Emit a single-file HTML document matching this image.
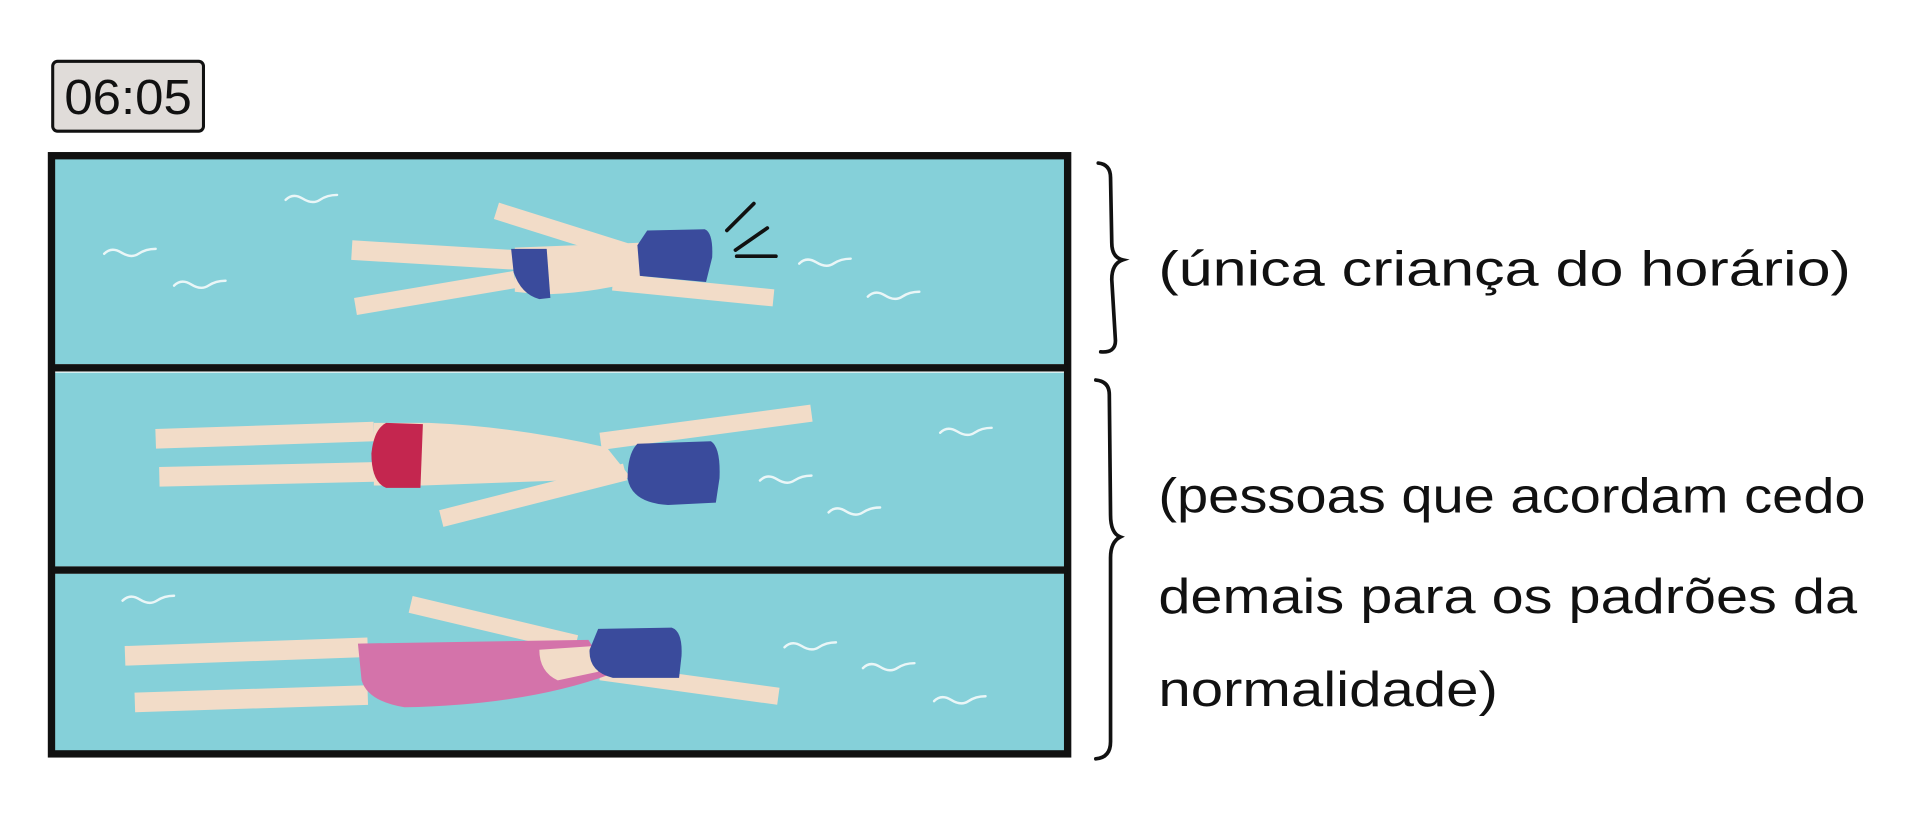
<!DOCTYPE html>
<html><head><meta charset="utf-8"><style>html,body{margin:0;padding:0;background:#fff}svg{display:block}</style></head>
<body>
<svg width="1922" height="832" viewBox="0 0 1568 678.7" xmlns="http://www.w3.org/2000/svg">
<rect width="1568" height="679" fill="#fff"/>
<rect x="43" y="50" width="123" height="57" rx="4" fill="#e0dcd9" stroke="#111" stroke-width="2.5"/>
<text x="104.5" y="93" font-family="Liberation Sans Narrow, Liberation Sans, sans-serif" font-size="40" text-anchor="middle" textLength="104" lengthAdjust="spacingAndGlyphs" fill="#111">06:05</text>
<g fill="#85d0d9">
<rect x="43" y="129" width="827" height="168"/>
<rect x="43" y="304" width="827" height="158"/>
<rect x="43" y="468" width="827" height="145"/>
</g>
<g fill="none" stroke="#111" stroke-width="6">
<rect x="42" y="127" width="829" height="488"/>
<line x1="42" y1="300" x2="871" y2="300"/>
<line x1="42" y1="465" x2="871" y2="465"/>
</g>
<g fill="none" stroke="#eaf6f7" stroke-width="2" stroke-linecap="round">
<path d="M233,163 q6,-6 14,-1 t14,1 t14,-4"/>
<path d="M85,207 q6,-6 14,-1 t14,1 t14,-4"/>
<path d="M142,233 q6,-6 14,-1 t14,1 t14,-4"/>
<path d="M652,215 q6,-6 14,-1 t14,1 t14,-4"/>
<path d="M708,242 q6,-6 14,-1 t14,1 t14,-4"/>
<path d="M767,353 q6,-6 14,-1 t14,1 t14,-4"/>
<path d="M620,392 q6,-6 14,-1 t14,1 t14,-4"/>
<path d="M676,418 q6,-6 14,-1 t14,1 t14,-4"/>
<path d="M100,490 q6,-6 14,-1 t14,1 t14,-4"/>
<path d="M640,528 q6,-6 14,-1 t14,1 t14,-4"/>
<path d="M704,545 q6,-6 14,-1 t14,1 t14,-4"/>
<path d="M762,572 q6,-6 14,-1 t14,1 t14,-4"/>
</g>
<g stroke="#f2dcc8" stroke-linecap="butt">
<line x1="287" y1="204" x2="420" y2="212" stroke-width="16"/>
<line x1="290" y1="250" x2="420" y2="228" stroke-width="14"/>
<line x1="405" y1="172" x2="510" y2="205" stroke-width="14"/>
<line x1="500" y1="230" x2="631" y2="243" stroke-width="14"/>
<line x1="127" y1="358" x2="305" y2="352" stroke-width="16"/>
<line x1="130" y1="389" x2="305" y2="385" stroke-width="16"/>
<line x1="490" y1="360" x2="662" y2="337" stroke-width="14"/>
<line x1="360" y1="423" x2="510" y2="385" stroke-width="14"/>
<line x1="102" y1="535" x2="300" y2="528" stroke-width="16"/>
<line x1="110" y1="573" x2="300" y2="567" stroke-width="16"/>
<line x1="335" y1="493" x2="470" y2="525" stroke-width="14"/>
<line x1="490" y1="548" x2="635" y2="568" stroke-width="14"/>
</g>
<path d="M420,202 L522,198 L525,228 Q480,240 440,240 L420,238Z" fill="#f2dcc8"/>
<path d="M417,203 L446,203 L449,243 L440,244 Q425,240 419,222Z" fill="#3a4b9c"/>
<path d="M528,188 L575,187 Q582,190 581,210 L576,230 L522,225 L520,200Z" fill="#3a4b9c"/>
<g stroke="#111" stroke-width="3" stroke-linecap="round">
<line x1="593" y1="188" x2="615" y2="166"/><line x1="600" y1="204" x2="626" y2="186"/><line x1="601" y1="209" x2="633" y2="209"/>
</g>
<path d="M305,345 L350,345 Q420,348 495,365 L515,390 L345,396 L305,396Z" fill="#f2dcc8"/>
<path d="M315,345 L345,346 L343,398 L315,398 Q303,393 303,370 Q305,350 315,345Z" fill="#c4264f"/>
<path d="M520,362 L580,360 Q588,365 587,390 L584,410 L545,412 Q515,410 512,390 Q512,370 520,362Z" fill="#3a4b9c"/>
<path d="M292,525 L480,522 L498,550 Q430,575 330,577 Q300,572 295,555Z" fill="#d473aa"/>
<path d="M440,530 L485,527 L488,548 L455,555 Q440,548 440,530Z" fill="#f2dcc8"/>
<path d="M488,513 L548,512 Q557,515 556,535 L554,553 L500,553 Q480,548 481,530Z" fill="#3a4b9c"/>
<g fill="none" stroke="#111" stroke-width="3" stroke-linecap="round">
<path d="M896,133 Q906,134 906,145 L907,198 Q907,210 916,212 Q907,215 907,228 L910,278 Q910,288 898,287"/>
<path d="M894,310 Q905,311 905,322 L906,420 Q906,435 914,438 Q906,442 906,455 L906,605 Q906,618 894,619"/>
</g>
<g font-family="Liberation Sans, sans-serif" font-size="40" fill="#111">
<text x="945" y="233" textLength="565" lengthAdjust="spacingAndGlyphs">(única criança do horário)</text>
<text x="945" y="418" textLength="577" lengthAdjust="spacingAndGlyphs">(pessoas que acordam cedo</text>
<text x="945" y="500" textLength="570" lengthAdjust="spacingAndGlyphs">demais para os padrões da</text>
<text x="945" y="576" textLength="277" lengthAdjust="spacingAndGlyphs">normalidade)</text>
</g>
</svg>
</body></html>
